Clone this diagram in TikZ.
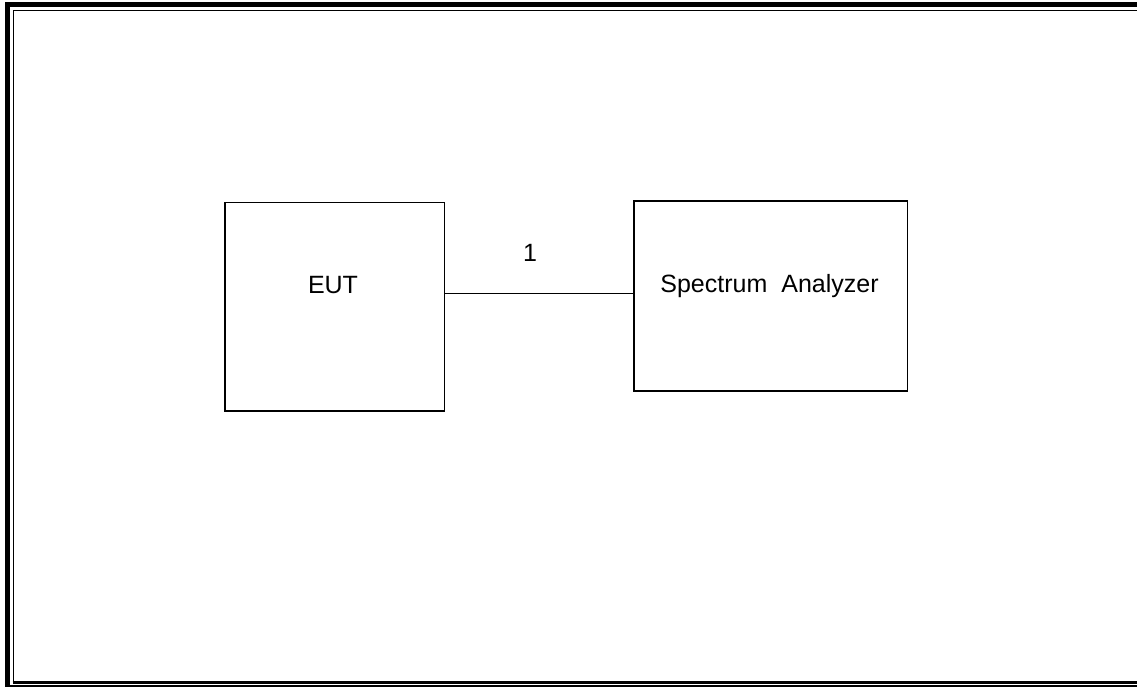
\documentclass[tikz,border=0pt]{standalone}
\usepackage{fontspec}
\setmainfont{Liberation Sans}
\begin{document}
\begin{tikzpicture}[x=1pt,y=-1pt,
  box/.style={draw=black,line width=1.6pt,inner sep=0pt,minimum width=#1},
  lbl/.style={anchor=base,inner sep=0pt,font=\fontsize{25}{29}\selectfont},
  conn/.style={line width=1.6pt}]
\useasboundingbox (0,0) rectangle (1137,687);
% frame
\draw[line width=5pt] (7.5,687) -- (7.5,4.5) -- (1137,4.5);
\draw[line width=2pt] (5,686) -- (1137,686);
\draw[line width=1.6pt] (13.5,681) -- (13.5,10.5) -- (1137,10.5);
\draw[line width=3pt] (12.7,682) -- (1137,682);
% boxes
\node[box=219.6pt,minimum height=208pt] (eut) at (334.5,306.7) {};
\node[box=273.3pt,minimum height=190.3pt] (sa) at (770.7,295.9) {};
\node[lbl] (eutt) at (333,293.5) {EUT};
\node[lbl] (sat) at (769.5,292) {Spectrum\hspace{14pt}Analyzer};
\coordinate (p) at (444.3,293.5);
\draw[conn] (p) -- (p -| sa.west);
\node[lbl] (one) at (530,261) {1};
\end{tikzpicture}
\end{document}
